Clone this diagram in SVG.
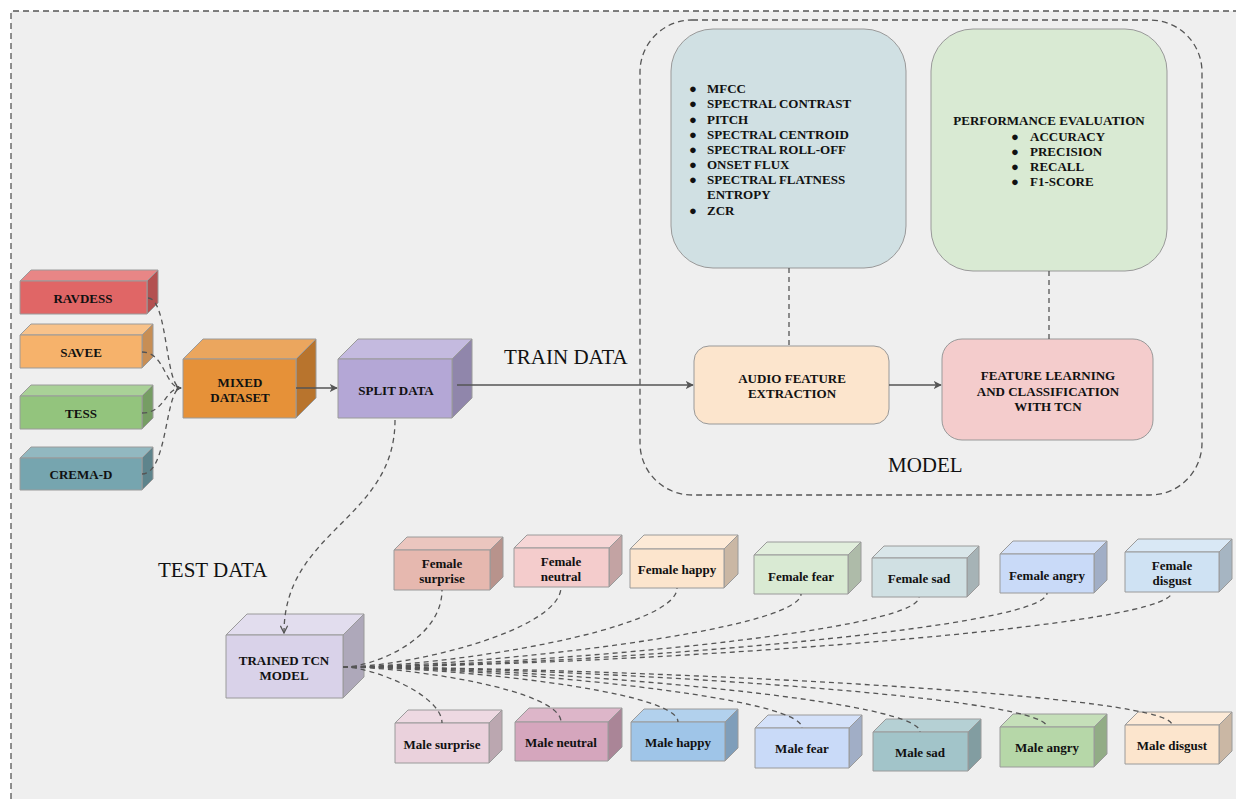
<svg xmlns="http://www.w3.org/2000/svg" width="1236" height="799" viewBox="0 0 1236 799">
<defs>
<marker id="arr" viewBox="0 0 10 10" refX="9" refY="5" markerWidth="8" markerHeight="8" markerUnits="userSpaceOnUse" orient="auto">
<path d="M0,0 L10,5 L0,10 L2.5,5 Z" fill="#555"/>
</marker>
<marker id="arrs" viewBox="0 0 10 10" refX="9" refY="5" markerWidth="6" markerHeight="6" markerUnits="userSpaceOnUse" orient="auto">
<path d="M0,0 L10,5 L0,10 L2.5,5 Z" fill="#555"/>
</marker>
<marker id="arro" viewBox="0 0 10 10" refX="9" refY="5" markerWidth="9" markerHeight="9" markerUnits="userSpaceOnUse" orient="auto">
<path d="M1,1 L9,5 L1,9" fill="none" stroke="#555" stroke-width="1.4"/>
</marker>
</defs>
<style>
.cb polygon{stroke:#9a9a9a;stroke-width:1}
.lb{font-family:"Liberation Serif","Times New Roman",serif;font-weight:bold;font-size:13px;fill:#111;text-anchor:middle;dominant-baseline:central}
.ls{font-family:"Liberation Serif","Times New Roman",serif;font-weight:bold;font-size:13px;fill:#111;dominant-baseline:central}
.big{font-family:"Liberation Serif","Times New Roman",serif;font-size:21px;fill:#111}
.dash{fill:none;stroke:#555;stroke-width:1.3;stroke-dasharray:5 4}
.solid{fill:none;stroke:#555;stroke-width:1.3}
.rb{stroke:#999;stroke-width:1}
</style>
<rect x="11" y="11" width="1225" height="788" fill="#efefef"/>
<path d="M11 799 V11 H1236" fill="none" stroke="#555" stroke-width="1.3" stroke-dasharray="6 4"/>

<rect x="640" y="20" width="562" height="475" rx="52" fill="none" stroke="#555" stroke-width="1.3" stroke-dasharray="6 4"/>
<text class="big" x="888" y="472">MODEL</text>
<text class="big" x="504" y="364">TRAIN DATA</text>
<text class="big" x="158" y="577">TEST DATA</text>

<g id="features">
<rect class="rb" x="671" y="29" width="235" height="239" rx="42" fill="#d0e0e3"/>
<g class="ls">
<text x="689" y="88">●</text><text x="707" y="88">MFCC</text>
<text x="689" y="103">●</text><text x="707" y="103">SPECTRAL CONTRAST</text>
<text x="689" y="119">●</text><text x="707" y="119">PITCH</text>
<text x="689" y="134">●</text><text x="707" y="134">SPECTRAL CENTROID</text>
<text x="689" y="149">●</text><text x="707" y="149">SPECTRAL ROLL-OFF</text>
<text x="689" y="164">●</text><text x="707" y="164">ONSET FLUX</text>
<text x="689" y="179">●</text><text x="707" y="179">SPECTRAL FLATNESS</text>
<text x="707" y="194">ENTROPY</text>
<text x="689" y="210">●</text><text x="707" y="210">ZCR</text>
</g>
</g>
<g id="performance">
<rect class="rb" x="931" y="29" width="236" height="242" rx="42" fill="#d9ead3"/>
<text class="lb" x="1049" y="120">PERFORMANCE EVALUATION</text>
<g class="ls">
<text x="1011" y="136">●</text><text x="1030" y="136">ACCURACY</text>
<text x="1011" y="151">●</text><text x="1030" y="151">PRECISION</text>
<text x="1011" y="166">●</text><text x="1030" y="166">RECALL</text>
<text x="1011" y="181">●</text><text x="1030" y="181">F1-SCORE</text>
</g>
</g>
<g id="audio">
<rect class="rb" x="694" y="346" width="195" height="78" rx="15" fill="#fce5cd"/>
<text class="lb" x="792" y="378">AUDIO FEATURE</text>
<text class="lb" x="792" y="393">EXTRACTION</text>
</g>
<g id="tcnlearn">
<rect class="rb" x="942" y="339" width="211" height="101" rx="20" fill="#f4cccc"/>
<text class="lb" x="1048" y="375">FEATURE LEARNING</text>
<text class="lb" x="1048" y="391">AND CLASSIFICATION</text>
<text class="lb" x="1048" y="406">WITH TCN</text>
</g>

<g id="ravdess" class="cb">
<polygon points="20,281 31,270 158,270 147,281" fill="#e88686"/>
<polygon points="147,281 158,270 158,303 147,314" fill="#b35151"/>
<polygon points="20,281 147,281 147,314 20,314" fill="#e06666"/>
<text class="lb" x="83" y="298">RAVDESS</text>
</g>
<g id="savee" class="cb">
<polygon points="20,335 31,324 153,324 142,335" fill="#f8c28a"/>
<polygon points="142,335 153,324 153,357 142,368" fill="#c78e55"/>
<polygon points="20,335 142,335 142,368 20,368" fill="#f6b26b"/>
<text class="lb" x="81" y="352">SAVEE</text>
</g>
<g id="tess" class="cb">
<polygon points="20,396 31,385 153,385 142,396" fill="#a9d197"/>
<polygon points="142,396 153,385 153,418 142,429" fill="#769d64"/>
<polygon points="20,396 142,396 142,429 20,429" fill="#93c47d"/>
<text class="lb" x="81" y="413">TESS</text>
</g>
<g id="cremad" class="cb">
<polygon points="20,458 31,447 153,447 142,458" fill="#92b8c0"/>
<polygon points="142,458 153,447 153,479 142,490" fill="#5e848c"/>
<polygon points="20,458 142,458 142,490 20,490" fill="#76a5af"/>
<text class="lb" x="81" y="474">CREMA-D</text>
</g>
<g id="mixed" class="cb">
<polygon points="183,359 203,339 316,339 296,359" fill="#eba65e"/>
<polygon points="296,359 316,339 316,398 296,418" fill="#b8742d"/>
<polygon points="183,359 296,359 296,418 183,418" fill="#e69138"/>
<text class="lb" x="240" y="382">MIXED</text>
<text class="lb" x="240" y="397">DATASET</text>
</g>
<g id="split" class="cb">
<polygon points="338,359 358,339 472,339 452,359" fill="#c4badf"/>
<polygon points="452,359 472,339 472,398 452,418" fill="#9086ab"/>
<polygon points="338,359 452,359 452,418 338,418" fill="#b4a7d6"/>
<text class="lb" x="396" y="390">SPLIT DATA</text>
</g>
<g id="trained" class="cb">
<polygon points="226,635 247,614 364,614 343,635" fill="#e2ddee"/>
<polygon points="343,635 364,614 364,677 343,698" fill="#aea8ba"/>
<polygon points="226,635 343,635 343,698 226,698" fill="#d9d2e9"/>
<text class="lb" x="284" y="660">TRAINED TCN</text>
<text class="lb" x="284" y="675">MODEL</text>
</g>

<g id="f-surprise" class="cb">
<polygon points="394,550 407,537 503,537 490,550" fill="#ebc6bf"/>
<polygon points="490,550 503,537 503,577 490,590" fill="#b8938c"/>
<polygon points="394,550 490,550 490,590 394,590" fill="#e6b8af"/>
<text class="lb" x="442" y="563">Female</text>
<text class="lb" x="442" y="578">surprise</text>
</g>
<g id="f-neutral" class="cb">
<polygon points="514,548 527,535 622,535 609,548" fill="#f6d6d6"/>
<polygon points="609,548 622,535 622,574 609,587" fill="#c3a3a3"/>
<polygon points="514,548 609,548 609,587 514,587" fill="#f4cccc"/>
<text class="lb" x="561" y="561">Female</text>
<text class="lb" x="561" y="576">neutral</text>
</g>
<g id="f-happy" class="cb">
<polygon points="630,549 644,535 738,535 724,549" fill="#fdead7"/>
<polygon points="724,549 738,535 738,574 724,588" fill="#cab7a4"/>
<polygon points="630,549 724,549 724,588 630,588" fill="#fce5cd"/>
<text class="lb" x="677" y="569">Female happy</text>
</g>
<g id="f-fear" class="cb">
<polygon points="754,555 767,542 861,542 848,555" fill="#e1eedc"/>
<polygon points="848,555 861,542 861,581 848,594" fill="#aebba9"/>
<polygon points="754,555 848,555 848,594 754,594" fill="#d9ead3"/>
<text class="lb" x="801" y="576">Female fear</text>
</g>
<g id="f-sad" class="cb">
<polygon points="872,558 884,546 979,546 967,558" fill="#d9e6e9"/>
<polygon points="967,558 979,546 979,585 967,597" fill="#a6b3b6"/>
<polygon points="872,558 967,558 967,597 872,597" fill="#d0e0e3"/>
<text class="lb" x="919" y="578">Female sad</text>
</g>
<g id="f-angry" class="cb">
<polygon points="1000,554 1013,541 1107,541 1094,554" fill="#d4e1f9"/>
<polygon points="1094,554 1107,541 1107,580 1094,593" fill="#a1aec6"/>
<polygon points="1000,554 1094,554 1094,593 1000,593" fill="#c9daf8"/>
<text class="lb" x="1047" y="575">Female angry</text>
</g>
<g id="f-disgust" class="cb">
<polygon points="1125,552 1138,539 1232,539 1219,552" fill="#d9e8f5"/>
<polygon points="1219,552 1232,539 1232,579 1219,592" fill="#a6b5c2"/>
<polygon points="1125,552 1219,552 1219,592 1125,592" fill="#cfe2f3"/>
<text class="lb" x="1172" y="565">Female</text>
<text class="lb" x="1172" y="580">disgust</text>
</g>

<g id="m-surprise" class="cb">
<polygon points="395,723 408,710 502,710 489,723" fill="#eed9e2"/>
<polygon points="489,723 502,710 502,750 489,763" fill="#bba7b0"/>
<polygon points="395,723 489,723 489,763 395,763" fill="#ead1dc"/>
<text class="lb" x="442" y="744">Male surprise</text>
</g>
<g id="m-neutral" class="cb">
<polygon points="515,722 529,708 622,708 608,722" fill="#ddb6c9"/>
<polygon points="608,722 622,708 622,747 608,761" fill="#aa8597"/>
<polygon points="515,722 608,722 608,761 515,761" fill="#d5a6bd"/>
<text class="lb" x="561" y="742">Male neutral</text>
</g>
<g id="m-happy" class="cb">
<polygon points="631,722 644,709 738,709 725,722" fill="#b2d1ed"/>
<polygon points="725,722 738,709 738,748 725,761" fill="#7f9eba"/>
<polygon points="631,722 725,722 725,761 631,761" fill="#9fc5e8"/>
<text class="lb" x="678" y="742">Male happy</text>
</g>
<g id="m-fear" class="cb">
<polygon points="755,728 768,715 862,715 849,728" fill="#d4e1f9"/>
<polygon points="849,728 862,715 862,755 849,768" fill="#a1aec6"/>
<polygon points="755,728 849,728 849,768 755,768" fill="#c9daf8"/>
<text class="lb" x="802" y="748">Male fear</text>
</g>
<g id="m-sad" class="cb">
<polygon points="873,732 886,719 981,719 968,732" fill="#b5d0d4"/>
<polygon points="968,732 981,719 981,758 968,771" fill="#829da1"/>
<polygon points="873,732 968,732 968,771 873,771" fill="#a2c4c9"/>
<text class="lb" x="920" y="752">Male sad</text>
</g>
<g id="m-angry" class="cb">
<polygon points="1000,727 1013,714 1107,714 1094,727" fill="#c5dfb9"/>
<polygon points="1094,727 1107,714 1107,754 1094,767" fill="#92ac86"/>
<polygon points="1000,727 1094,727 1094,767 1000,767" fill="#b6d7a8"/>
<text class="lb" x="1047" y="747">Male angry</text>
</g>
<g id="m-disgust" class="cb">
<polygon points="1125,725 1138,712 1232,712 1219,725" fill="#fdead7"/>
<polygon points="1219,725 1232,712 1232,751 1219,764" fill="#cab7a4"/>
<polygon points="1125,725 1219,725 1219,764 1125,764" fill="#fce5cd"/>
<text class="lb" x="1172" y="745">Male disgust</text>
</g>

<g id="connectors">
<path class="dash" d="M148 298 C168 298,165 388,181 388" marker-end="url(#arrs)"/>
<path class="dash" d="M142 352 C165 352,165 388,181 388" marker-end="url(#arrs)"/>
<path class="dash" d="M142 413 C165 413,165 388,181 388" marker-end="url(#arrs)"/>
<path class="dash" d="M142 474 C168 474,165 388,181 388" marker-end="url(#arrs)"/>
<path class="solid" d="M296 388 H337" marker-end="url(#arr)"/>
<path class="solid" d="M457 385 H693" marker-end="url(#arr)"/>
<path class="solid" d="M889 385 H941" marker-end="url(#arr)"/>
<path class="dash" d="M789 268 V346"/>
<path class="dash" d="M1049 271 V339"/>
<path class="dash" d="M395 420 C395 520,284 530,284 633" marker-end="url(#arro)"/>
<path class="dash" d="M343 667 C373 667,442 640,442 590"/>
<path class="dash" d="M343 667 C410 667,561 630,561 587"/>
<path class="dash" d="M343 667 C445 667,677 630,677 588"/>
<path class="dash" d="M343 667 C480 667,801 630,801 594"/>
<path class="dash" d="M343 667 C520 667,919 632,919 597"/>
<path class="dash" d="M343 667 C560 667,1047 630,1047 593"/>
<path class="dash" d="M343 667 C590 667,1172 630,1172 592"/>
<path class="dash" d="M343 667 C373 667,442 695,442 723"/>
<path class="dash" d="M343 667 C410 667,561 690,561 722"/>
<path class="dash" d="M343 667 C445 667,678 690,678 722"/>
<path class="dash" d="M343 667 C480 667,802 695,802 728"/>
<path class="dash" d="M343 667 C520 667,920 698,920 732"/>
<path class="dash" d="M343 667 C560 667,1047 695,1047 727"/>
<path class="dash" d="M343 667 C590 667,1172 692,1172 725"/>
</g>
</svg>
